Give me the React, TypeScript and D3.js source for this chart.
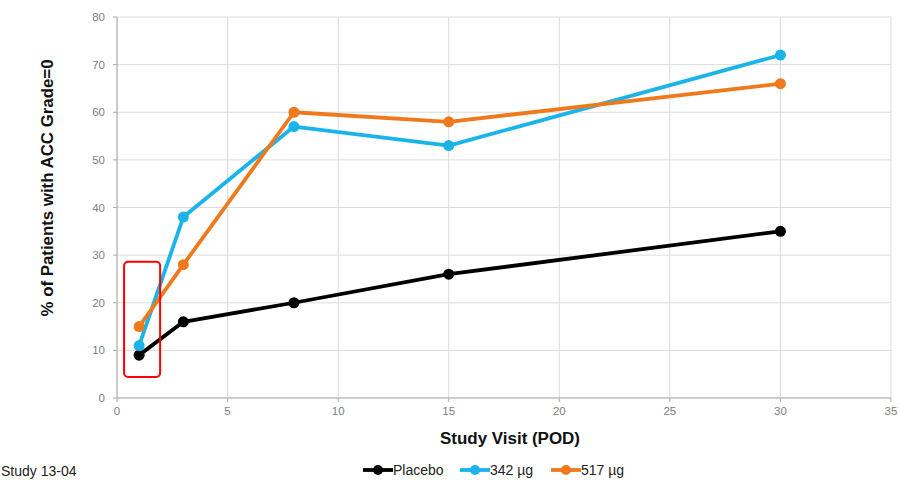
import React from "react";
import * as d3 from "d3";

const visits = [1, 3, 8, 15, 30];
const placebo = [9, 16, 20, 26, 35];
const dose342 = [11, 38, 57, 53, 72];
const dose517 = [15, 28, 60, 58, 66];
const seriesNames = ["Placebo", "342 µg", "517 µg"];
const seriesColors = ["#000000", "#1ab3ea", "#ef7a1d"];
const xTicks = [0, 5, 10, 15, 20, 25, 30, 35];
const yTicks = [0, 10, 20, 30, 40, 50, 60, 70, 80];
// highlight box around the first visit (data units)
const boxX = [0.32, 1.95];
const boxY = [4.4, 28.6];

const width = 899,
  height = 480;

export default function App() {
  const x = d3.scaleLinear().domain([0, 35]).range([117, 891]);
  const y = d3.scaleLinear().domain([0, 80]).range([398, 17]);
  const series = [placebo, dose342, dose517];
  const line = d3
    .line<number>()
    .x((_, i) => x(visits[i]))
    .y((d) => y(d));

  const legendX = [363, 460, 551];

  return (
    <svg
      width={width}
      height={height}
      style={{ position: "absolute", left: 0, top: 0, fontFamily: "Liberation Sans, Arial, sans-serif" }}
    >
      <rect width={width} height={height} fill="#fff" />
      {xTicks.map((t) => (
        <g key={"x" + t}>
          <line x1={x(t)} x2={x(t)} y1={y(0)} y2={y(80)} stroke="#dcdcdc" strokeWidth={1} />
          <line x1={x(t)} x2={x(t)} y1={y(0)} y2={y(0) + 4} stroke="#aaa" />
          <text x={x(t)} y={y(0) + 17} textAnchor="middle" fontSize={11.5} fill="#808080">
            {t}
          </text>
        </g>
      ))}
      {yTicks.map((t) => (
        <g key={"y" + t}>
          <line x1={x(0)} x2={x(35)} y1={y(t)} y2={y(t)} stroke="#dcdcdc" strokeWidth={1} />
          <line x1={x(0) - 4} x2={x(0)} y1={y(t)} y2={y(t)} stroke="#aaa" />
          <text x={x(0) - 12} y={y(t) + 4} textAnchor="end" fontSize={11.5} fill="#808080">
            {t}
          </text>
        </g>
      ))}
      <line x1={x(0)} x2={x(0)} y1={y(0)} y2={y(80)} stroke="#aaa" />
      <line x1={x(0)} x2={x(35)} y1={y(0)} y2={y(0)} stroke="#aaa" />

      {series.map((s, si) => (
        <g key={"s" + si}>
          <path d={line(s) || ""} fill="none" stroke={seriesColors[si]} strokeWidth={3.8} strokeLinejoin="round" />
          {s.map((v, i) => (
            <circle key={i} cx={x(visits[i])} cy={y(v)} r={5.5} fill={seriesColors[si]} />
          ))}
        </g>
      ))}

      <rect
        x={x(boxX[0])}
        y={y(boxY[1])}
        width={x(boxX[1]) - x(boxX[0])}
        height={y(boxY[0]) - y(boxY[1])}
        rx={4}
        fill="none"
        stroke="#ff0000"
        strokeWidth={2}
      />

      <text
        transform={`translate(53, 188) rotate(-90)`}
        textAnchor="middle"
        fontSize={16}
        fontWeight="bold"
        fill="#111"
        textLength={257}
        lengthAdjust="spacingAndGlyphs"
      >
        % of Patients with ACC Grade=0
      </text>
      <text x={510} y={444} textAnchor="middle" fontSize={16} fontWeight="bold" fill="#111"
        textLength={140} lengthAdjust="spacingAndGlyphs">
        Study Visit (POD)
      </text>

      <text x={1} y={476} fontSize={14} fill="#222">
        Study 13-04
      </text>

      {seriesNames.map((n, i) => (
        <g key={"l" + i} transform={`translate(${legendX[i]}, 470)`}>
          <line x1={0} x2={30} y1={0} y2={0} stroke={seriesColors[i]} strokeWidth={3.8} />
          <circle cx={15} cy={0} r={5} fill={seriesColors[i]} />
          <text x={30} y={5} fontSize={14} fill="#222">
            {n}
          </text>
        </g>
      ))}
    </svg>
  );
}
